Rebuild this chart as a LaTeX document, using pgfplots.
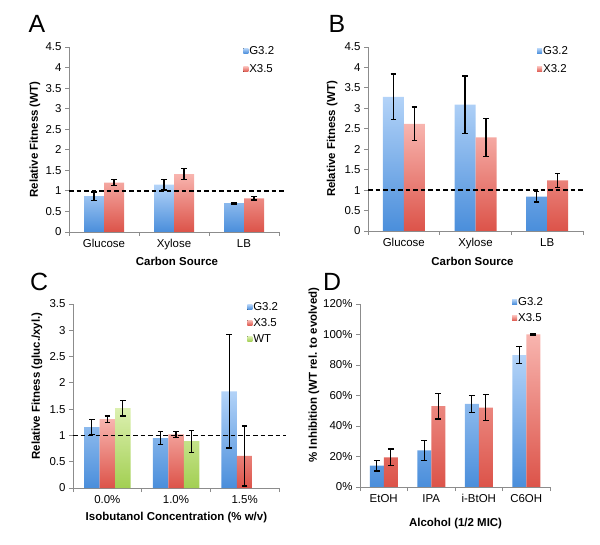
\documentclass[border=0pt]{standalone}
\usepackage{fontspec}
\setmainfont{Liberation Sans}
\usepackage{pgfplots}
\pgfplotsset{compat=1.18}
\definecolor{bluetop}{HTML}{B3D3F8}
\definecolor{bluebot}{HTML}{4A8EDB}
\definecolor{redtop}{HTML}{F8B5AF}
\definecolor{redbot}{HTML}{DC5349}
\definecolor{greentop}{HTML}{DCF0B0}
\definecolor{greenbot}{HTML}{A2CF52}
\definecolor{axisgray}{HTML}{8C8C8C}
\tikzset{refline/.style={black, line width=1.4bp, dash pattern=on 4.5bp off 3bp}}
\pgfplotsset{
 panel/.style={
  scale only axis, ybar=0pt, enlargelimits=false, clip=false,
  axis x line*=bottom, axis y line*=left, tick pos=left,
  axis line style={axisgray, line width=0.8bp, -},
  tick align=outside,
  xtick={0,1,2}, minor xtick={-0.5,0.5,1.5,2.5}, xmin=-0.5, xmax=2.5,
  major x tick style={draw=none},
  minor x tick style={axisgray, line width=0.8bp},
  minor tick length=4bp,
  y tick style={axisgray, line width=0.8bp},
  major tick length=4bp,
  tick label style={font=\fontsize{11.5}{13}\selectfont},
  /pgf/number format/assume math mode=true,
  legend style={draw=none, fill=none, inner sep=0pt, anchor=north west,
     font=\fontsize{11.5}{13}\selectfont, nodes={inner sep=1bp}},
  legend cell align=left,
  legend image code/.code={\fill[##1] (0bp,-2.5bp) rectangle (5bp,2.5bp);},
  every axis y label/.style={rotate=90, anchor=center, font=\bfseries\fontsize{11.5}{13}\selectfont},
  every axis x label/.style={anchor=center, font=\bfseries\fontsize{11.5}{13}\selectfont},
 },
 eb/.style={error bars/.cd, y dir=both, y explicit,
   error bar style={black, line width=1.3bp},
   error mark options={black, rotate=90, mark size=2.8bp, line width=1.3bp}},
 bluebar/.style={draw=none, top color=bluetop, bottom color=bluebot, eb},
 redbar/.style={draw=none, top color=redtop, bottom color=redbot, eb},
 greenbar/.style={draw=none, top color=greentop, bottom color=greenbot, eb},
}
\begin{document}
\begin{tikzpicture}
\useasboundingbox (0,0) rectangle (600bp,545bp);
% Panel letters
\node[font=\fontsize{25}{28}\selectfont] at (37bp,521bp) {A};
\node[font=\fontsize{25}{28}\selectfont] at (337bp,521bp) {B};
\node[font=\fontsize{25}{28}\selectfont] at (39bp,263bp) {C};
\node[font=\fontsize{25}{28}\selectfont] at (332bp,263bp) {D};

% Panel A
\begin{axis}[panel, at={(69bp,313bp)}, anchor=south west, width=210bp, height=185bp,
  bar width=20bp, ymin=0, ymax=4.5, ytick={0,0.5,...,4.5},
  xticklabels={Glucose,Xylose,LB},
  xlabel={Carbon Source}, ylabel={Relative Fitness (WT)},
  every axis x label/.append style={at={(axis description cs:0.514,-0.157)}},
  every axis y label/.append style={at={(axis description cs:-0.162,0.5)}},
  legend style={at={(rel axis cs:0.829,1.011)}, row sep=7bp}]
\addplot[bluebar] coordinates {(0,0.87) +- (0,0.10) (1,1.15) +- (0,0.13) (2,0.70) +- (0,0.02)};
\addplot[redbar] coordinates {(0,1.20) +- (0,0.07) (1,1.41) +- (0,0.13) (2,0.82) +- (0,0.04)};
\legend{G3.2,X3.5}
\draw[refline] (axis cs:-0.5,1) -- (axis cs:2.6,1);
\end{axis}

% Panel B
\begin{axis}[panel, at={(368bp,314bp)}, anchor=south west, width=215bp, height=184bp,
  bar width=21bp, ymin=0, ymax=4.5, ytick={0,0.5,...,4.5},
  xticklabels={Glucose,Xylose,LB},
  xlabel={Carbon Source}, ylabel={Relative Fitness (WT)},
  every axis x label/.append style={at={(axis description cs:0.486,-0.163)}},
  every axis y label/.append style={at={(axis description cs:-0.167,0.5)}},
  legend style={at={(rel axis cs:0.786,1.011)}, row sep=7bp}]
\addplot[bluebar] coordinates {(0,3.28) +- (0,0.56) (1,3.09) +- (0,0.70) (2,0.84) +- (0,0.13)};
\addplot[redbar] coordinates {(0,2.62) +- (0,0.41) (1,2.29) +- (0,0.46) (2,1.24) +- (0,0.17)};
\legend{G3.2,X3.2}
\draw[refline] (axis cs:-0.5,1) -- (axis cs:2.5,1);
\end{axis}

% Panel C
\begin{axis}[panel, at={(73bp,57bp)}, anchor=south west, width=206bp, height=184bp,
  bar width=15.5bp, ymin=0, ymax=3.5, ytick={0,0.5,...,3.5},
  xticklabels={0.0\%,1.0\%,1.5\%},
  xlabel={Isobutanol Concentration (\% w/v)}, ylabel={Relative Fitness (gluc./xyl.)},
  every axis x label/.append style={at={(axis description cs:0.502,-0.163)}},
  every axis y label/.append style={at={(axis description cs:-0.175,0.554)}},
  legend style={at={(rel axis cs:0.845,1.016)}, row sep=4.5bp}]
\addplot[bluebar] coordinates {(0,1.16) +- (0,0.14) (1,0.95) +- (0,0.12) (2,1.84) +- (0,1.08)};
\addplot[redbar] coordinates {(0,1.31) +- (0,0.06) (1,1.02) +- (0,0.06) (2,0.61) +- (0,0.57)};
\addplot[greenbar] coordinates {(0,1.52) +- (0,0.15) (1,0.89) +- (0,0.21)};
\legend{G3.2,X3.5,WT}
\draw[refline] (axis cs:-0.5,1) -- (axis cs:2.6,1);
\end{axis}

% Panel D
\begin{axis}[panel, at={(360bp,58bp)}, anchor=south west, width=190bp, height=183bp,
  bar width=14bp, ymin=0, ymax=120, ytick={0,20,...,120},
  yticklabel={\pgfmathprintnumber{\tick}\%},
  xtick={0,1,2,3}, minor xtick={-0.5,0.5,1.5,2.5,3.5}, xmax=3.5,
  xticklabels={EtOH,IPA,i-BtOH,C6OH},
  xlabel={Alcohol (1/2 MIC)}, ylabel={\% Inhibition (WT rel. to evolved)},
  every axis x label/.append style={at={(axis description cs:0.503,-0.197)}},
  every axis y label/.append style={at={(axis description cs:-0.242,0.612)}},
  legend style={at={(rel axis cs:0.8,1.044)}, row sep=5bp}]
\addplot[bluebar] coordinates {(0,14) +- (0,3.5) (1,24) +- (0,6.5) (2,54.5) +- (0,5.5) (3,86.5) +- (0,5.5)};
\addplot[redbar] coordinates {(0,19.5) +- (0,5.5) (1,53) +- (0,8.5) (2,52) +- (0,8.5) (3,100) +- (0,0.3)};
\legend{G3.2,X3.5}
\end{axis}
\end{tikzpicture}
\end{document}
